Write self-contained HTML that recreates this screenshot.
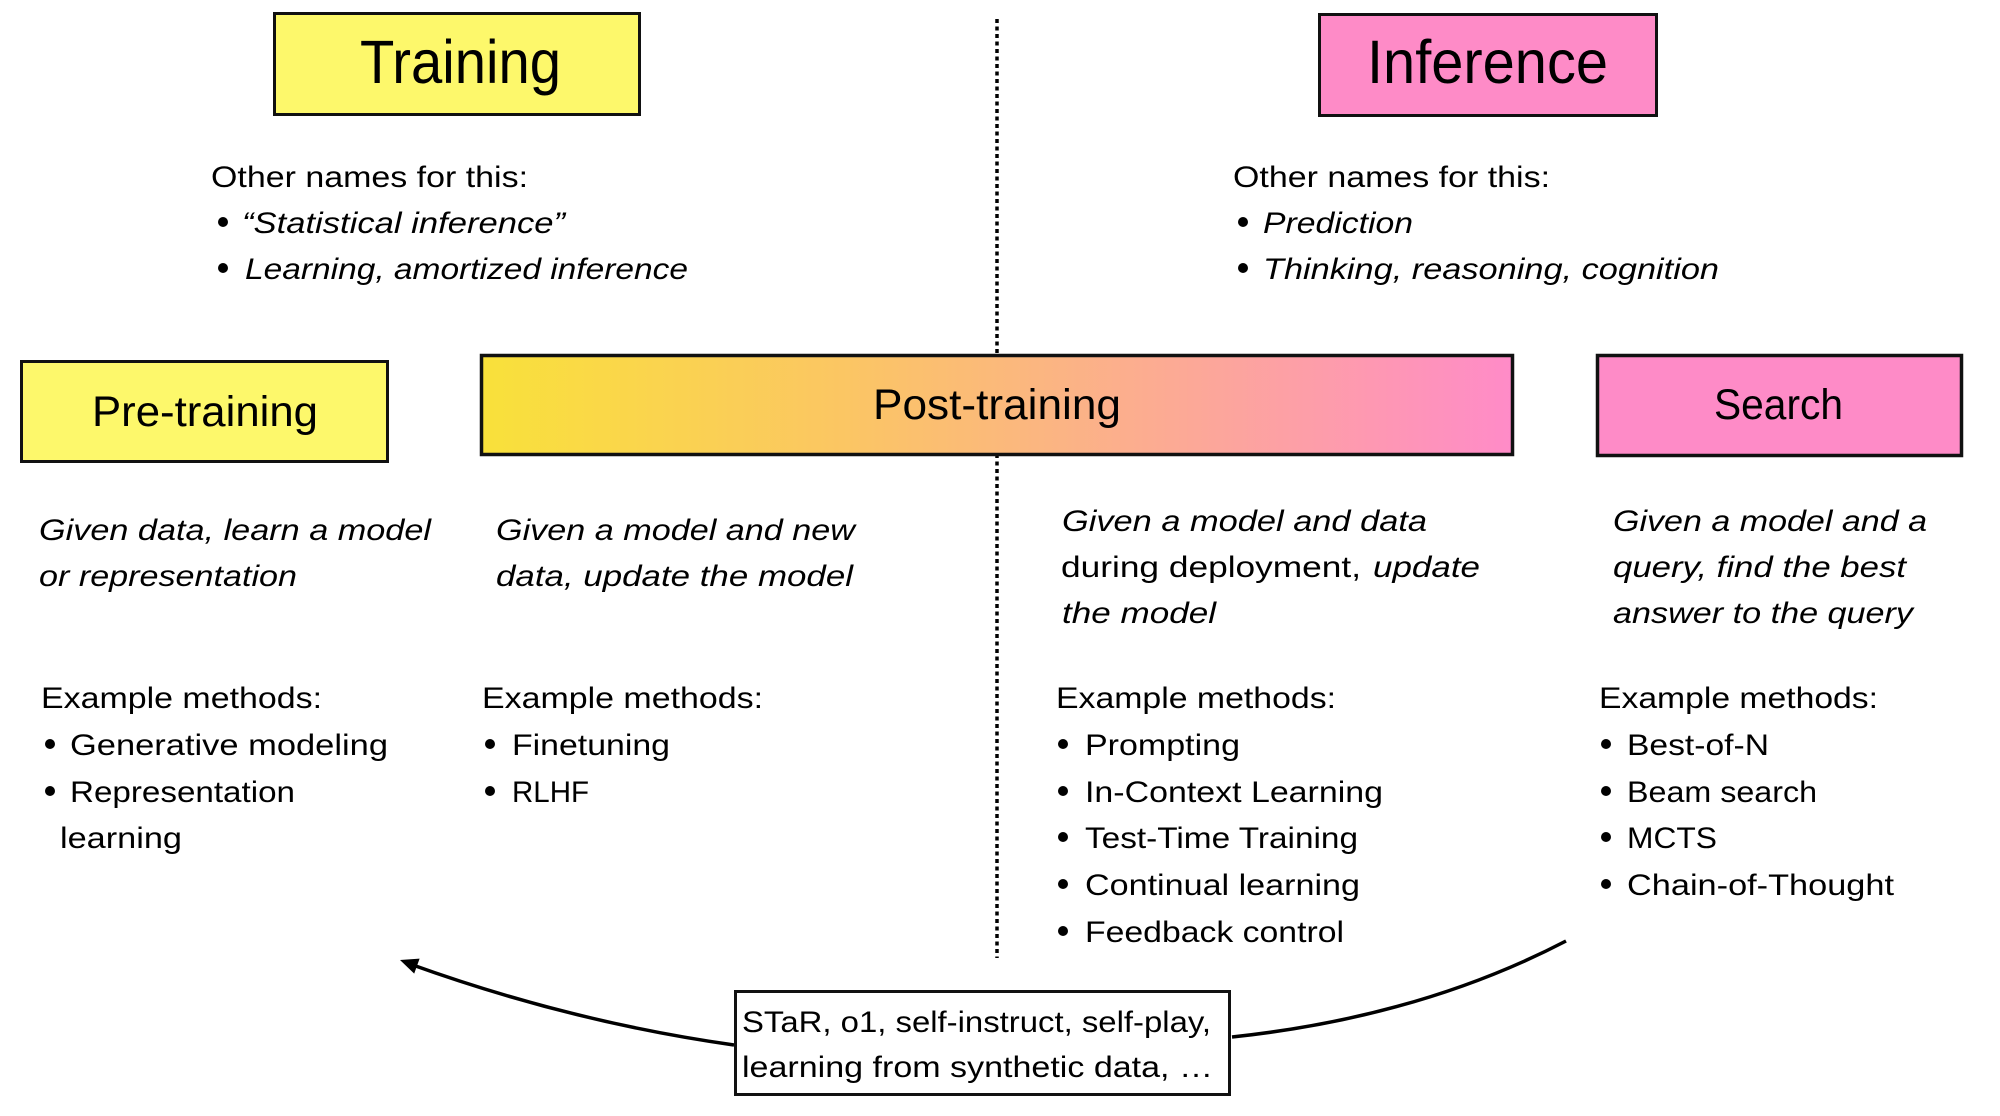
<!DOCTYPE html>
<html><head><meta charset="utf-8"><style>
html,body{margin:0;padding:0;background:#fff;}
svg{display:block;}
text{font-family:"Liberation Sans",Arial,sans-serif;fill:#000;}
.t{font-size:30px;}
.i{font-size:30px;font-style:italic;}
.h{font-size:61px;}
.b{font-size:43px;}
</style></head><body>
<svg width="2000" height="1116" viewBox="0 0 2000 1116" xmlns="http://www.w3.org/2000/svg">
<defs>
<linearGradient id="g" x1="0" y1="0" x2="1" y2="0">
<stop offset="0" stop-color="#F9E13A"/>
<stop offset="0.35" stop-color="#FBC663"/>
<stop offset="0.55" stop-color="#FBB582"/>
<stop offset="0.8" stop-color="#FD9EA8"/>
<stop offset="1" stop-color="#FF8BC8"/>
</linearGradient>
</defs>
<rect width="2000" height="1116" fill="#fff"/>

<!-- dotted divider -->
<line x1="997" y1="19" x2="997" y2="958" stroke="#000" stroke-width="3.5" stroke-dasharray="4 3.5"/>

<!-- top boxes -->
<rect x="274.5" y="13.5" width="365" height="101" fill="#FDF86B" stroke="#111" stroke-width="3"/>
<text class="h" x="360" y="83" textLength="201" lengthAdjust="spacingAndGlyphs">Training</text>
<rect x="1319.5" y="14.5" width="337" height="101" fill="#FE8BC7" stroke="#111" stroke-width="3"/>
<text class="h" x="1367" y="83" textLength="241" lengthAdjust="spacingAndGlyphs">Inference</text>

<!-- other names -->
<text class="t" x="211" y="187" textLength="317" lengthAdjust="spacingAndGlyphs">Other names for this:</text>
<circle cx="223" cy="222" r="5" fill="#000"/>
<text class="i" x="242" y="233" textLength="323" lengthAdjust="spacingAndGlyphs">“Statistical inference”</text>
<circle cx="223" cy="268" r="5" fill="#000"/>
<text class="i" x="245" y="279" textLength="443" lengthAdjust="spacingAndGlyphs">Learning, amortized inference</text>

<text class="t" x="1233" y="187" textLength="317" lengthAdjust="spacingAndGlyphs">Other names for this:</text>
<circle cx="1243" cy="222" r="5" fill="#000"/>
<text class="i" x="1263" y="233" textLength="150" lengthAdjust="spacingAndGlyphs">Prediction</text>
<circle cx="1243" cy="268" r="5" fill="#000"/>
<text class="i" x="1263" y="279" textLength="456" lengthAdjust="spacingAndGlyphs">Thinking, reasoning, cognition</text>

<!-- second row boxes -->
<rect x="21.5" y="361.5" width="366" height="100" fill="#FDF86B" stroke="#111" stroke-width="3"/>
<text class="b" x="92" y="426" textLength="226" lengthAdjust="spacingAndGlyphs">Pre-training</text>
<rect x="481.5" y="355.5" width="1031" height="99" fill="url(#g)" stroke="#111" stroke-width="3.5"/>
<text class="b" x="873" y="419" textLength="248" lengthAdjust="spacingAndGlyphs">Post-training</text>
<rect x="1597.5" y="355.5" width="364" height="100" fill="#FE8BC7" stroke="#111" stroke-width="3.5"/>
<text class="b" x="1714" y="419" textLength="129" lengthAdjust="spacingAndGlyphs">Search</text>

<!-- column 1 -->
<text class="i" x="39" y="540" textLength="392" lengthAdjust="spacingAndGlyphs">Given data, learn a model</text>
<text class="i" x="39" y="586" textLength="258" lengthAdjust="spacingAndGlyphs">or representation</text>
<text class="t" x="41" y="708" textLength="281" lengthAdjust="spacingAndGlyphs">Example methods:</text>
<circle cx="50" cy="744" r="5" fill="#000"/>
<text class="t" x="70" y="755" textLength="318" lengthAdjust="spacingAndGlyphs">Generative modeling</text>
<circle cx="50" cy="791" r="5" fill="#000"/>
<text class="t" x="70" y="802" textLength="225" lengthAdjust="spacingAndGlyphs">Representation</text>
<text class="t" x="60" y="848" textLength="122" lengthAdjust="spacingAndGlyphs">learning</text>

<!-- column 2 -->
<text class="i" x="496" y="540" textLength="359" lengthAdjust="spacingAndGlyphs">Given a model and new</text>
<text class="i" x="496" y="586" textLength="357" lengthAdjust="spacingAndGlyphs">data, update the model</text>
<text class="t" x="482" y="708" textLength="281" lengthAdjust="spacingAndGlyphs">Example methods:</text>
<circle cx="490" cy="744" r="5" fill="#000"/>
<text class="t" x="512" y="755" textLength="158" lengthAdjust="spacingAndGlyphs">Finetuning</text>
<circle cx="490" cy="791" r="5" fill="#000"/>
<text class="t" x="512" y="802" textLength="77" lengthAdjust="spacingAndGlyphs">RLHF</text>

<!-- column 3 -->
<text class="i" x="1062" y="531" textLength="365" lengthAdjust="spacingAndGlyphs">Given a model and data</text>
<text class="t" x="1061" y="577" textLength="300" lengthAdjust="spacingAndGlyphs">during deployment,</text>
<text class="i" x="1373" y="577" textLength="107" lengthAdjust="spacingAndGlyphs">update</text>
<text class="i" x="1062" y="623" textLength="154" lengthAdjust="spacingAndGlyphs">the model</text>
<text class="t" x="1056" y="708" textLength="280" lengthAdjust="spacingAndGlyphs">Example methods:</text>
<circle cx="1063" cy="744" r="5" fill="#000"/>
<text class="t" x="1085" y="755" textLength="155" lengthAdjust="spacingAndGlyphs">Prompting</text>
<circle cx="1063" cy="791" r="5" fill="#000"/>
<text class="t" x="1085" y="802" textLength="298" lengthAdjust="spacingAndGlyphs">In-Context Learning</text>
<circle cx="1063" cy="837" r="5" fill="#000"/>
<text class="t" x="1085" y="848" textLength="273" lengthAdjust="spacingAndGlyphs">Test-Time Training</text>
<circle cx="1063" cy="884" r="5" fill="#000"/>
<text class="t" x="1085" y="895" textLength="275" lengthAdjust="spacingAndGlyphs">Continual learning</text>
<circle cx="1063" cy="931" r="5" fill="#000"/>
<text class="t" x="1085" y="942" textLength="259" lengthAdjust="spacingAndGlyphs">Feedback control</text>

<!-- column 4 -->
<text class="i" x="1613" y="531" textLength="314" lengthAdjust="spacingAndGlyphs">Given a model and a</text>
<text class="i" x="1613" y="577" textLength="293" lengthAdjust="spacingAndGlyphs">query, find the best</text>
<text class="i" x="1613" y="623" textLength="300" lengthAdjust="spacingAndGlyphs">answer to the query</text>
<text class="t" x="1599" y="708" textLength="279" lengthAdjust="spacingAndGlyphs">Example methods:</text>
<circle cx="1606" cy="744" r="5" fill="#000"/>
<text class="t" x="1627" y="755" textLength="142" lengthAdjust="spacingAndGlyphs">Best-of-N</text>
<circle cx="1606" cy="791" r="5" fill="#000"/>
<text class="t" x="1627" y="802" textLength="190" lengthAdjust="spacingAndGlyphs">Beam search</text>
<circle cx="1606" cy="837" r="5" fill="#000"/>
<text class="t" x="1627" y="848" textLength="90" lengthAdjust="spacingAndGlyphs">MCTS</text>
<circle cx="1606" cy="884" r="5" fill="#000"/>
<text class="t" x="1627" y="895" textLength="267" lengthAdjust="spacingAndGlyphs">Chain-of-Thought</text>

<!-- curves -->
<path d="M734,1045 Q571,1022 410,964" fill="none" stroke="#000" stroke-width="3.5"/>
<polygon points="400,960 419.6,958.6 414.2,973.6" fill="#000"/>
<path d="M1232,1037 Q1420,1017 1566,941" fill="none" stroke="#000" stroke-width="3.5"/>

<!-- bottom box -->
<rect x="735.5" y="991.5" width="494" height="103" fill="#fff" stroke="#111" stroke-width="3"/>
<text class="t" x="742" y="1032" textLength="469" lengthAdjust="spacingAndGlyphs">STaR, o1, self-instruct, self-play,</text>
<text class="t" x="742" y="1077" textLength="471" lengthAdjust="spacingAndGlyphs">learning from synthetic data, …</text>
</svg>
</body></html>
